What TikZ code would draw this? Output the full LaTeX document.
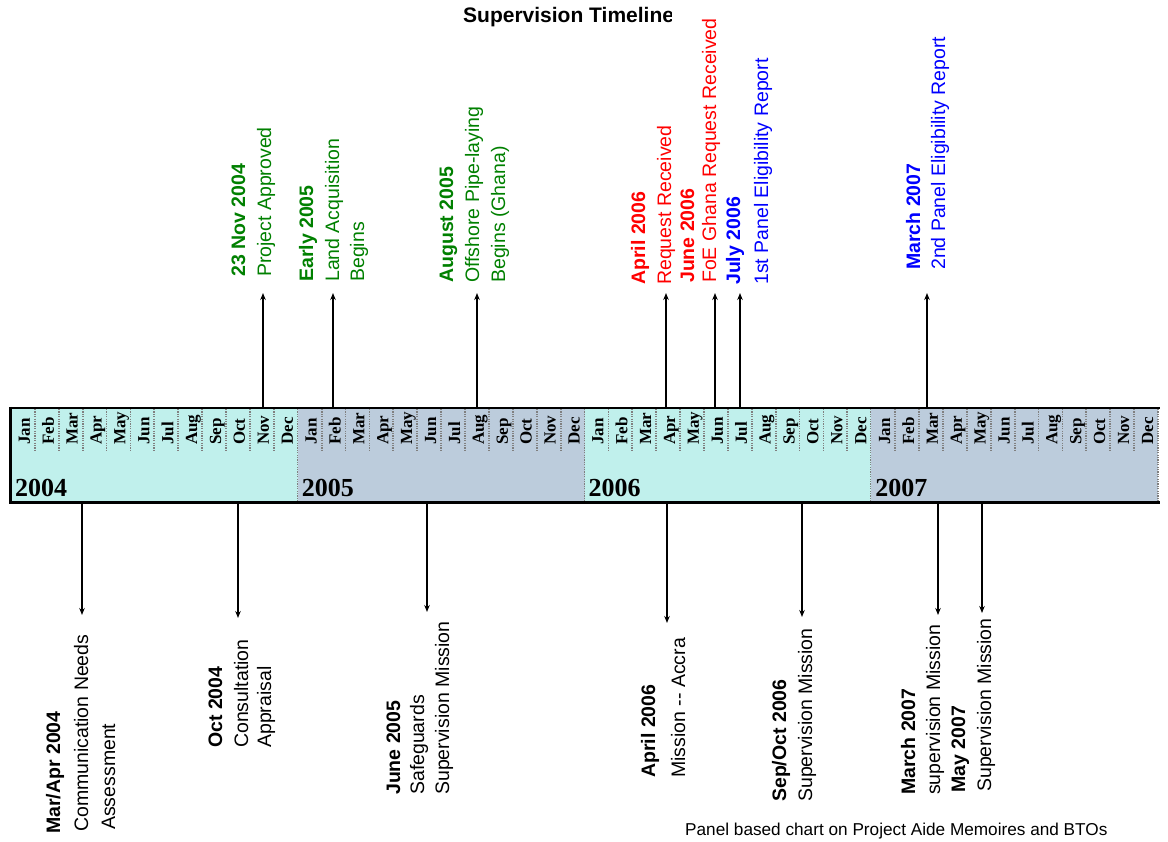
\documentclass[tikz,border=0pt]{standalone}
\usepackage{fontspec}
\setmainfont{Liberation Sans}
\newfontfamily\tms{Liberation Serif}
\usetikzlibrary{arrows.meta}
\definecolor{cyanfill}{RGB}{192,240,236}
\definecolor{bluefill}{RGB}{188,204,220}
\definecolor{grn}{RGB}{0,128,0}
\definecolor{rd}{RGB}{255,0,0}
\definecolor{bl}{RGB}{0,0,255}
\begin{document}
\begin{tikzpicture}[x=1pt,y=-1pt,
  lab/.style={rotate=90,anchor=base west,inner sep=0pt,font=\fontsize{19.5}{23}\selectfont},
  labb/.style={rotate=90,anchor=base west,inner sep=0pt,font=\fontsize{19.5}{23}\selectfont\bfseries},
  mon/.style={rotate=90,anchor=base west,inner sep=0pt,font=\tms\fontsize{17}{18}\selectfont\bfseries},
  yr/.style={anchor=base west,inner sep=0pt,font=\tms\fontsize{26}{30}\selectfont\bfseries},
  arr/.style={line width=1.3pt,-{Stealth[length=7pt,width=5.5pt]}},
  mdiv/.style={gray,line width=1.8pt,dash pattern=on 1.2pt off 1.2pt},
]
\fill[white] (0,0) rectangle (1168,842);
\useasboundingbox (0,0) rectangle (1168,842);

% title (clipped as in the original)
\begin{scope}
\clip (440,0) rectangle (671,40);
\node[anchor=base west,inner sep=0pt,font=\fontsize{21}{24}\selectfont\bfseries] (title) at (463,23) {Supervision Timeline};
\end{scope}

% timeline bar
\foreach \k/\yr/\col in {0/2004/cyanfill,1/2005/bluefill,2/2006/cyanfill,3/2007/bluefill}{
  \pgfmathsetmacro\xo{11+286.75*\k}
  \fill[\col] (\xo,409) rectangle ++(286.75,93);
  \foreach \i in {1,...,11}{
    \draw[mdiv] (\xo+23.896*\i,409) -- (\xo+23.896*\i,450);
  }
  \draw[mdiv] (\xo+286.75,409) -- (\xo+286.75,502);
  \node[yr] (y\yr) at (\xo+4,496) {\yr};
  \foreach \m [count=\i from 0] in {Jan,Feb,Mar,Apr,May,Jun,Jul,Aug,Sep,Oct,Nov,Dec}{
    \node[mon] (m\yr\m) at (\xo+23.896*\i+18.9,445) {\m};
  }
}
\draw[line width=2.2pt] (9.5,408) -- (1160,408);
\draw[line width=2.2pt] (9.5,502.5) -- (1160,502.5);
\draw[line width=2.5pt] (10.5,407) -- (10.5,503.5);

% top events
\node[labb,grn] (t1a) at (245,277) {23 Nov 2004};
\node[lab,grn]  (t1b) at (271,277) {Project Approved};
\node[labb,grn] (t2a) at (313,282) {Early 2005};
\node[lab,grn]  (t2b) at (339,282) {Land Acquisition};
\node[lab,grn]  (t2c) at (364,282) {Begins};
\node[labb,grn] (t3a) at (453,283) {August 2005};
\node[lab,grn]  (t3b) at (479,283) {Offshore Pipe-laying};
\node[lab,grn]  (t3c) at (505,283) {Begins (Ghana)};
\node[labb,rd]  (t4a) at (645,285) {April 2006};
\node[lab,rd]   (t4b) at (671,285) {Request Received};
\node[labb,rd]  (t5a) at (694,283) {June 2006};
\node[lab,rd]   (t5b) at (716,283) {FoE Ghana Request Received};
\node[labb,bl]  (t6a) at (740,285) {July 2006};
\node[lab,bl]   (t6b) at (768,285) {1st Panel Eligibility Report};
\node[labb,bl]  (t7a) at (920,270) {March 2007};
\node[lab,bl]   (t7b) at (945,270) {2nd Panel Eligibility Report};

\foreach \n/\x in {1/263,2/333,3/477,4/666,5/715,6/740,7/927}{
  \coordinate (ts\n) at (\x,407);
  \coordinate (te\n) at (\x,293);
  \draw[arr] (ts\n) -- (te\n);
}

% bottom events
\node[labb] (b1a) at (60,834) {Mar/Apr 2004};
\node[lab]  (b1b) at (88,832) {Communication Needs};
\node[lab]  (b1c) at (115,830) {Assessment};
\node[labb] (b2a) at (222,748) {Oct 2004};
\node[lab]  (b2b) at (248,748) {Consultation};
\node[lab]  (b2c) at (271,748) {Appraisal};
\node[labb] (b3a) at (400,795) {June 2005};
\node[lab]  (b3b) at (424,795) {Safeguards};
\node[lab]  (b3c) at (449,795) {Supervision Mission};
\node[labb] (b4a) at (655,778) {April 2006};
\node[lab]  (b4b) at (685,778) {Mission -{}- Accra};
\node[labb] (b5a) at (786,802) {Sep/Oct 2006};
\node[lab]  (b5b) at (812,802) {Supervision Mission};
\node[labb] (b6a) at (915,795) {March 2007};
\node[lab]  (b6b) at (940,795) {supervision Mission};
\node[labb] (b7a) at (965,793) {May 2007};
\node[lab]  (b7b) at (991,792) {Supervision Mission};

\foreach \n/\x/\y in {1/82/615,2/238/618,3/427/612,4/667/623,5/802/617,6/938/615,7/982/613}{
  \coordinate (bs\n) at (\x,503);
  \coordinate (be\n) at (\x,\y);
  \draw[arr] (bs\n) -- (be\n);
}

% footer
\node[anchor=base west,inner sep=0pt,font=\fontsize{17.2}{20}\selectfont] (foot) at (685,835) {Panel based chart on Project Aide Memoires and BTOs};
\end{tikzpicture}
\end{document}
